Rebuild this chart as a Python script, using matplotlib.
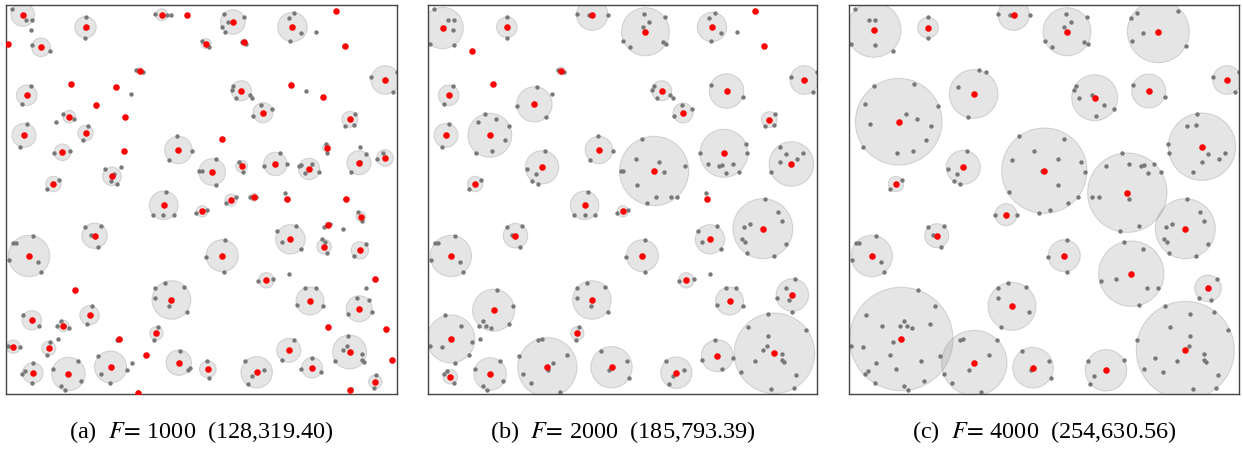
import matplotlib
matplotlib.use("Agg")
import matplotlib.pyplot as plt
from matplotlib.patches import Circle

# ---------------- data (box-pixel coordinates, y downward) ----------------
# customers (gray points)
cust_x = [6, 19.7, 26.3, 2, 26.3, 43.7, 79.3, 79, 149, 161, 180.7,
          217, 237.7, 221.7, 215.3, 195.7, 202.7, 235.3, 239,
          287.7, 282, 329, 294, 283.3, 337.3, 364, 389.7, 385.7, 284, 315.7,
          226.7, 225, 229.7, 243, 254.7, 265, 246.7, 130, 136.7, 109, 118.7,
          25.3, 64.7, 15.7, 89.3, 56.7, 68.3, 21, 81.7, 76.7, 13.7, 48, 64.3,
          347.7, 337.7, 346.7, 319.3, 319.7, 359.3, 376.3, 369.7, 353, 343.7,
          170.3, 215, 185.3, 162.7, 209, 232, 193, 236.3, 209.3, 160, 229, 219.3, 200.7, 189.7,
          273, 257.3, 280.3, 292, 294.7, 305.3, 298.7, 312, 243.3, 249.7, 279.7, 270.7, 289.7,
          117.7, 99, 108, 104.7, 110.7, 53, 41.3, 146.3, 167.7,
          338.3, 351.3, 355.3, 317.3, 322.7, 315.3, 318, 358.7, 319.7, 347,
          79, 94.7, 84.3, 92, 27.3, 7.3, 10, 3, 32, 35.3, 218, 199, 217.7,
          275, 294, 266.7, 251.7, 298.3, 309, 290, 367.7, 350, 362.3,
          159, 149, 177.3, 149, 180.3, 151.7,
          69, 85.7, 17.3, 33.3, 55, 51.3, 58, 62.7, 81, 44, 1.7, 13.7, 41.3, 72, 27.3,
          91.3, 47, 19.3, 16.3, 25.7, 55.3, 75.3, 59,
          114, 110.7, 148, 139.7, 120.3, 95, 103.3, 132,
          173.3, 200, 181.7, 202, 238.7, 275, 245.3, 241.3,
          315.7, 341, 364.7, 321, 378.7, 287.7, 341, 340.3, 354.7, 355.3, 357, 305.7,
          328.3, 294.7, 313.7, 369.3, 343.7, 367]
cust_y = [4.3, 14.7, 14.7, 39, 40, 45.7, 12.3, 33, 9, 10.3, 10.3,
          9, 12.3, 16.7, 22.3, 35.7, 42.3, 36.7, 39,
          7.7, 12.7, 6, 28.3, 36.3, 40.7, 72.3, 66.7, 86.7, 79.7, 92,
          81, 85.3, 92.7, 89.7, 100.3, 104.3, 111, 64.7, 67.3, 82, 112.3,
          81, 79, 99.3, 100.7, 109.3, 113.7, 119.3, 121, 135, 141.7, 147.7, 146.3,
          108.7, 121, 120, 139, 147.7, 148.7, 147.7, 154.3, 157, 166.7,
          131.3, 134, 145.7, 155.3, 154.3, 156.7, 165.7, 167, 179.7, 186.7, 192, 198, 205, 207.7,
          148, 161, 159, 161.3, 160.3, 159, 168.3, 166.7, 192.3, 192, 194, 226, 221.3,
          146, 164.3, 168.7, 176, 178.7, 175, 184, 209.7, 209.7,
          194, 207, 215.7, 222, 219.3, 234.3, 236.7, 239, 248.3, 251.3,
          222.3, 220.7, 229.7, 241.7, 231, 238.3, 237.7, 254.7, 256.7, 267.3, 235, 252, 266.7,
          237, 243.7, 274.3, 276, 283, 283.3, 300.3, 273.7, 292.7, 295.3,
          278, 283.3, 281.7, 292.7, 306.7, 322.3,
          285, 301, 310, 320.7, 315.7, 320.7, 321, 322.7, 319.3, 337, 341.3, 341.7, 350, 356, 357.7,
          351.3, 364, 365.7, 368.7, 378, 380.7, 376, 384.7,
          333.7, 335, 334.7, 350.3, 364.7, 369.3, 378, 387,
          345.7, 356.3, 365.3, 372.7, 356, 355.3, 371, 378.7,
          301.3, 309, 306.7, 322.3, 324.7, 335.3, 330.7, 340.7, 349, 355, 356.7, 353,
          356.3, 363.7, 367.3, 370.3, 384.3, 383]

# facilities of panel (a): x, y, coverage radius
fa_x = [16.7, 79.3, 155.3, 181, 2.3, 35, 133.3, 65, 109.3, 20.7, 89.7, 63, 118.7, 18, 79.3,
        56.3, 118, 172, 105.7, 47.3, 157.3, 205.7,
        226.3, 285.7, 329.3, 199.7, 237.3, 337.7, 378.3, 234.7, 284, 316, 256.3, 343, 215.7,
        319.7, 235, 268.7, 302.3, 352, 378,
        224.3, 247, 280.3, 338.7, 195.7, 354, 321, 283.7, 317.3, 353, 215.7, 259.7, 368,
        303.3, 352.3, 321.3, 379, 282, 342.7, 305.3, 385, 201.3, 250, 368.3, 343.3,
        88.3, 23, 69.3, 165, 25.7, 57.3, 83.3, 150, 7.3, 42.7, 112.3, 139.7, 26.7, 62.3,
        104.3, 172.3, 132]
fa_y = [9.7, 22.3, 9.7, 10.3, 39.3, 42.3, 66, 79, 82, 90.3, 100.3, 111.7, 112.3, 130.3, 128,
        147.3, 146, 145, 171.3, 179, 200.3, 167,
        17, 22, 6, 38.7, 37.3, 40.7, 75, 85.7, 79.7, 92, 107.7, 114.3, 134,
        142.7, 161.3, 159, 164, 157.7, 153,
        195, 192.3, 194, 194, 206.3, 211.7, 220, 234.3, 241.7, 245.3, 250.7, 275.3, 273.7,
        296, 303.7, 322.3, 324.3, 345.3, 347, 362.7, 355.3, 364.3, 367.3, 376.7, 384.7,
        230.7, 251, 285, 295, 315.3, 321, 310.3, 328.3, 341.7, 343.3, 334.3, 350.3, 368, 369,
        362, 357.7, 387.7]
fa_r = [11.7, 10.7, 6, 0, 0, 9.3, 3.3, 0, 0, 10.3, 0, 6.3, 0, 12, 7.7,
        8.3, 0, 13.7, 9.3, 7.7, 14.3, 13.3,
        12.3, 14.7, 0, 5, 3, 0, 14.3, 10, 0, 0, 10, 8, 0,
        4, 6, 11.7, 10.7, 12, 8.3,
        6, 4, 0, 0, 5.7, 5, 3, 14.7, 7.3, 8.7, 16, 7.7, 0,
        14, 13, 0, 0, 12, 17, 10.3, 0, 8.3, 15.7, 6.7, 0,
        12.7, 20.7, 0, 19.3, 9.7, 5.7, 9.7, 6.7, 6.7, 7, 0, 0, 10.3, 16.7,
        16, 12.7, 0]

# facilities of panel (b)
fb_x = [14.7, 79, 164.7, 44, 64.7, 133.3, 20.7, 106.7, 18, 62, 171.3, 114.3, 47.3,
        218, 284.7, 328.3, 337, 377.3, 234.3, 299.3, 255.7, 342.3, 226.7, 296.7, 364.3, 279.3,
        157, 87.7, 23, 164.3, 65.7, 23, 149.7, 22.3, 62.3, 119.7, 184,
        195.3, 282.7, 335.7, 215, 259, 302.3, 365.3, 290, 249, 347.3]
fb_y = [23, 22.3, 9.7, 45.7, 79, 66, 90.3, 99.3, 130.3, 130.3, 145, 162.3, 179,
        26.7, 22, 6, 41, 75, 85.7, 86, 108, 114.7, 166, 148.3, 159, 193.7,
        200.3, 230.7, 251, 295, 305.3, 334, 328.3, 371.7, 369, 362.3, 362.3,
        206.3, 234.3, 223.7, 250.7, 275.3, 296, 290, 350.7, 367.7, 348.3]
fb_r = [20.7, 10.3, 15.7, 0, 0, 4, 10.3, 17.7, 12, 22, 13.7, 16.7, 7.7,
        24, 14.7, 0, 0, 14.3, 10, 17.3, 10, 8, 34.7, 24, 22.3, 0,
        14.3, 12.3, 20.7, 19.3, 21, 24, 6.7, 7.3, 16.3, 29.7, 20.7,
        5.7, 14.7, 30, 16, 7.7, 14, 16.3, 16, 15.7, 40.3]

# facilities of panel (c)
fc_x = [24.7, 79, 164.7, 218, 309.3, 378, 299.7, 245.7, 124.7, 49.7, 353, 195.3, 278.3, 114.3,
        47, 157, 336.3, 87.7, 22.7, 215.3, 282.3, 359, 163, 52.3, 125.3, 184, 257, 336.3]
fc_y = [25, 22.7, 9.7, 26.7, 26.7, 75, 86, 92.7, 89, 116.7, 141.7, 165.7, 187.7, 162.3,
        179, 209.7, 223.7, 230.7, 251, 250.7, 268.7, 283.3, 301.3, 334, 358, 362.7, 365.3, 345.3]
fc_r = [27.3, 10.3, 15.7, 24, 31, 14.3, 17, 23, 24.3, 43.3, 33.7, 42.7, 39.7, 17,
        7.7, 11, 30, 12, 20.7, 16, 32.7, 13.3, 24, 51.7, 32.7, 20.3, 20.7, 49]

captions = ["(a)  $F\\!=\\!$ 1000  (128,319.40)",
            "(b)  $F\\!=\\!$ 2000  (185,793.39)",
            "(c)  $F\\!=\\!$ 4000  (254,630.56)"]

# ---------------- figure ----------------
plt.rcParams['font.family'] = ['Liberation Serif', 'DejaVu Serif']
plt.rcParams['mathtext.fontset'] = 'stix'

W, H = 1243, 449
fig = plt.figure(figsize=(W / 100, H / 100), dpi=100)

lefts = [6, 428, 849]
widths = [391, 389, 390]
top, bottom = 5, 394

all_fx = cust_x + fc_x
all_fy = cust_y + fc_y

panels = [(fa_x, fa_y, fa_r), (fb_x, fb_y, fb_r), (fc_x, fc_y, fc_r)]
for i, (fx, fy, fr) in enumerate(panels):
    ax = fig.add_axes([lefts[i] / W, (H - bottom) / H, widths[i] / W, (bottom - top) / H])
    ax.set_xlim(0, 390)
    ax.set_ylim(389, 0)
    ax.set_xticks([])
    ax.set_yticks([])
    for s in ax.spines.values():
        s.set_color('#444444')
        s.set_linewidth(1.0)
    for x, y, r in zip(fx, fy, fr):
        if r > 0:
            c = Circle((x, y), r, facecolor=(0.55, 0.55, 0.55, 0.22),
                       edgecolor=(0.6, 0.6, 0.6, 0.35), linewidth=0.8, zorder=1)
            ax.add_patch(c)
    ax.scatter(all_fx, all_fy, s=10, color='#787878', linewidths=0, zorder=2)
    ax.scatter(fx, fy, s=22, color='#ff0000', linewidths=0, zorder=3)
    fig.text((lefts[i] + widths[i] / 2) / W, (H - 432) / H, captions[i],
             ha='center', va='center', fontsize=17.5)

fig.savefig('out.png', dpi=100)
